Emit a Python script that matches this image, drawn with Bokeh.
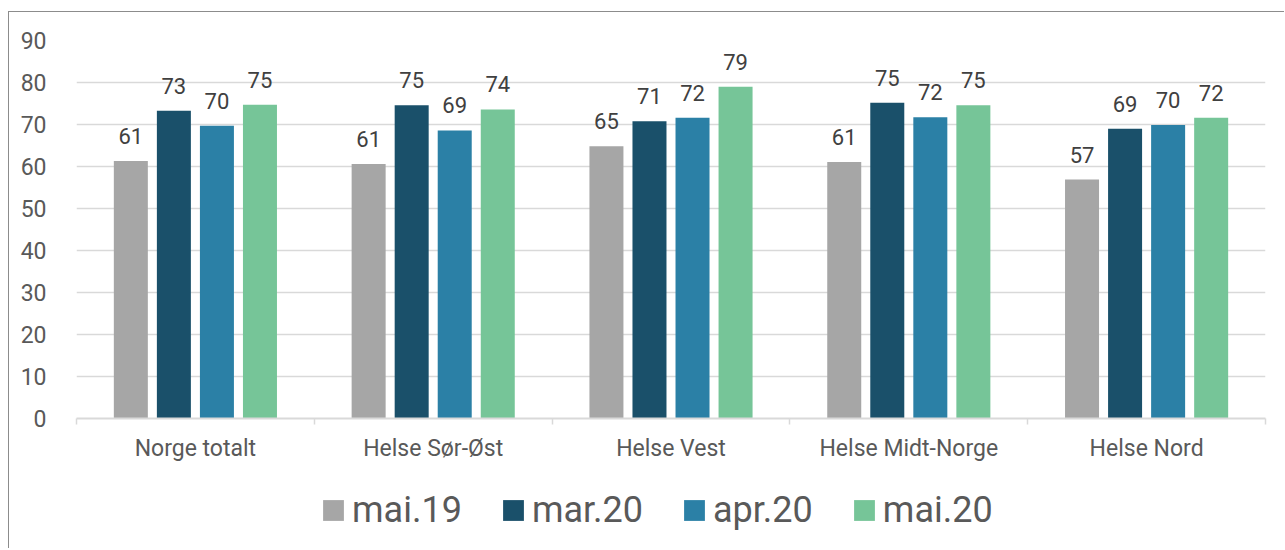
from bokeh.plotting import figure
from bokeh.layouts import column
from bokeh.core.properties import value
from bokeh.models import (FactorRange, Range1d, LinearAxis, FixedTicker,
                          ColumnDataSource, LabelSet, Legend, LegendItem, CategoricalAxis)
from bokeh.transform import dodge
from bokeh.embed import file_html
from bokeh.resources import INLINE

regions = ["Norge totalt", "Helse Sør-Øst", "Helse Vest", "Helse Midt-Norge", "Helse Nord"]
series = ["mai.19", "mar.20", "apr.20", "mai.20"]
mai19 = [61.3, 60.6, 64.8, 61.1, 56.9]
mar20 = [73.3, 74.6, 70.8, 75.2, 69.0]
apr20 = [69.7, 68.6, 71.6, 71.7, 69.9]
mai20 = [74.7, 73.6, 79.0, 74.6, 71.6]
colors = ["#a6a6a6", "#1a506a", "#2b80a6", "#76c598"]
y_ticks = [0, 10, 20, 30, 40, 50, 60, 70, 80, 90]
boundaries = [0, 1, 2, 3, 4, 5]

values = [mai19, mar20, apr20, mai20]
FONT = "Roboto"

data = {"region": regions}
for i, v in enumerate(values):
    data[f"v{i}"] = v
    data[f"l{i}"] = [f"{x:.0f}" for x in v]
src = ColumnDataSource(data)

p = figure(x_range=FactorRange(*regions), y_range=Range1d(0, 90),
           width=1275, height=470, output_backend="svg", toolbar_location=None,
           x_axis_location=None, min_border_left=67, min_border_top=28,
           min_border_right=19, min_border_bottom=64)
p.outline_line_color = None
p.xgrid.grid_line_color = None
p.ygrid.grid_line_color = "#d9d9d9"
p.ygrid.grid_line_width = 1.5
p.ygrid.ticker = FixedTicker(ticks=y_ticks)

ya = p.yaxis[0]
ya.ticker = FixedTicker(ticks=y_ticks)
ya.axis_line_color = None
ya.major_tick_line_color = None
ya.minor_tick_line_color = None
ya.major_label_text_font = FONT
ya.major_label_text_font_size = "23px"
ya.major_label_text_color = "#595959"
ya.major_label_standoff = 24

d = 0.181
offsets = [-1.5 * d, -0.5 * d, 0.5 * d, 1.5 * d]
for i, s in enumerate(series):
    p.vbar(x=dodge("region", offsets[i], range=p.x_range), top=f"v{i}", width=0.143,
           source=src, fill_color=colors[i], line_color=None)
    lbl = LabelSet(x=dodge("region", offsets[i], range=p.x_range), y=f"v{i}", text=f"l{i}",
                   source=src, y_offset=17, text_align="center", text_baseline="alphabetic",
                   text_font=value(FONT), text_font_size="22px", text_color="#404040")
    p.add_layout(lbl)

# boundary tick marks between categories (synthetic coordinates of the factor range)
tick_axis = LinearAxis(ticker=FixedTicker(ticks=boundaries),
                       major_tick_in=0, major_tick_out=6, major_tick_line_color="#d9d9d9",
                       major_tick_line_width=1.5, axis_line_color="#d9d9d9", axis_line_width=2,
                       minor_tick_line_color=None, major_label_text_font_size="0px",
                       major_label_standoff=0)
p.add_layout(tick_axis, "below")

cat_axis = CategoricalAxis(major_tick_line_color=None, minor_tick_line_color=None,
                           axis_line_color=None, major_label_text_font=FONT,
                           major_label_text_font_size="23px", major_label_text_color="#595959",
                           major_label_standoff=4)
p.add_layout(cat_axis, "below")

# legend strip below the chart (swatch renderers hold one zero-height bar each)
lf = figure(width=1275, height=66, x_range=Range1d(0, 1), y_range=Range1d(0, 1),
            output_backend="svg", toolbar_location=None, min_border=0,
            x_axis_location=None, y_axis_location=None)
lf.grid.visible = False
lf.outline_line_color = None
items = []
for i, s in enumerate(series):
    r = lf.vbar(x=[0.5], top=[0], width=0.1, fill_color=colors[i], line_color=None)
    items.append(LegendItem(label=s, renderers=[r]))
legend = Legend(items=items, orientation="horizontal", location=(244, 17),
                glyph_width=26, glyph_height=26, label_standoff=6, spacing=38,
                label_text_font=FONT, label_text_font_size="36px", label_text_color="#595959",
                border_line_color=None, background_fill_alpha=0, padding=0, margin=0)
lf.add_layout(legend, "center")

layout = column(p, lf, spacing=0)
layout.styles = {"margin-top": "11px", "margin-left": "8px",
                 "border-left": "1px solid #8c8c8c", "border-top": "1px solid #8c8c8c"}

open("out.html", "w").write(file_html(layout, INLINE))
